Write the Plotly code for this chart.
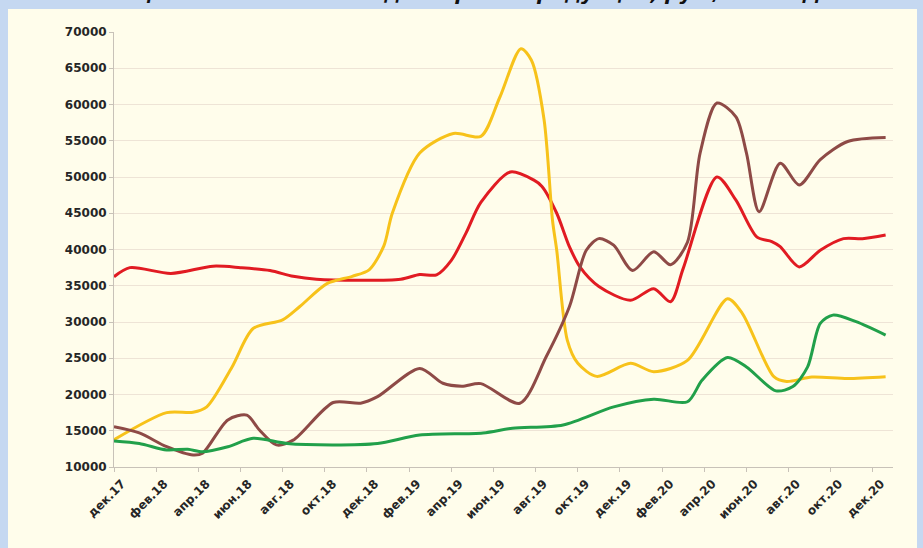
import plotly.graph_objects as go

# Tick labels (every second month, Dec 2017 = month 0)
tick_months = list(range(0, 37, 2))
tick_labels = ["дек.17", "фев.18", "апр.18", "июн.18", "авг.18", "окт.18", "дек.18",
               "фев.19", "апр.19", "июн.19", "авг.19", "окт.19", "дек.19",
               "фев.20", "апр.20", "июн.20", "авг.20", "окт.20", "дек.20"]

# Red series (months since Dec 2017, values)
red_x = [0, 0.75, 2.7, 4.7, 6, 7.4, 8.5, 9.6, 13.6, 14.5, 15.3, 16, 16.7, 17.4, 18.8,
         19.9, 20.3, 21, 21.6, 22.1, 23, 24.5, 25.6, 26.4, 27, 28.6, 29.5, 30.5, 31.2,
         31.6, 32.5, 33.5, 34.6, 35.5, 36.6]
red_y = [36250, 37500, 36700, 37700, 37500, 37100, 36300, 35900, 35900, 36550, 36500,
         38500, 42300, 46500, 50700, 49600, 48700, 45000, 40400, 37600, 34900, 33000,
         34600, 32800, 37400, 50000, 46800, 41700, 41100, 40400, 37600, 39900, 41500,
         41500, 42000]

# Yellow series
yel_x = [0, 2.5, 3.75, 4.4, 5.6, 6.6, 8, 8.8, 10.1, 11.3, 12.1, 12.8, 13.2, 14.5, 16.1,
         17.4, 18.3, 19.3, 19.8, 20.4, 20.8, 21, 21.5, 22, 22.9, 24.5, 25.6, 27.2, 29.1,
         29.8, 31.3, 31.9, 33.1, 34.8, 36.6]
yel_y = [13750, 17500, 17550, 18300, 23800, 29100, 30300, 32100, 35300, 36300, 37200,
         40500, 45000, 53300, 56000, 55600, 61000, 67700, 66100, 57900, 44000, 39900,
         27500, 24300, 22500, 24300, 23150, 24700, 33200, 31200, 22450, 21800, 22400,
         22200, 22450]

# Brown series
brn_x = [0, 1.2, 2.5, 3.75, 4.2, 5.4, 6.3, 6.9, 7.7, 8.5, 10.4, 11.7, 12.5, 14.5, 15.6,
         16.5, 17.4, 19.25, 20.5, 21.6, 22.4, 23, 23.7, 24.6, 25.6, 26.4, 27.2, 27.8, 28.6,
         29.5, 30, 30.6, 31.6, 32.5, 33.5, 34.8, 36.6]
brn_y = [15550, 14700, 12800, 11650, 11900, 16500, 17150, 15100, 13050, 13700, 18900,
         18800, 19700, 23600, 21550, 21150, 21500, 18800, 25200, 32100, 39900, 41500,
         40600, 37100, 39700, 37900, 41000, 53300, 60200, 58300, 53300, 45200, 51900,
         48900, 52400, 54900, 55450]

# Green series
grn_x = [0, 1.2, 2.5, 3.5, 4.2, 5.4, 6.6, 8.2, 10.4, 12.5, 14.5, 17.5, 18.9, 21.3, 23.7,
         25.6, 27.2, 27.9, 29.1, 30, 31.4, 32.2, 32.9, 33.5, 34.1, 35.2, 36.6]
grn_y = [13600, 13250, 12350, 12450, 12100, 12800, 13950, 13250, 13050, 13250, 14400,
         14700, 15350, 15800, 18300, 19350, 19000, 22000, 25100, 23800, 20500, 21100,
         23800, 29800, 30950, 30050, 28200]

series = [
    ("red", red_x, red_y, "#E11B22"),
    ("yellow", yel_x, yel_y, "#F7C21A"),
    ("brown", brn_x, brn_y, "#8E4A46"),
    ("green", grn_x, grn_y, "#21A04A"),
]

fig = go.Figure()
for name, xs, ys, col in series:
    fig.add_trace(go.Scatter(x=xs, y=ys, mode="lines", name=name,
                             line=dict(color=col, width=3, shape="spline", smoothing=0.8),
                             showlegend=False, hoverinfo="skip"))

W, H = 923, 548
L, R, T, B = 114, 30, 32, 81
pw, ph = W - L - R, H - T - B

def px(xp):
    return (xp - L) / pw

def py(yp):
    return (H - B - yp) / ph

cream = "#FFFDEB"
blue = "#C5D8F1"
fig.update_layout(
    width=W, height=H,
    margin=dict(l=L, r=R, t=T, b=B, pad=0),
    paper_bgcolor=blue,
    plot_bgcolor=cream,
    font=dict(family="Verdana, DejaVu Sans, sans-serif", color="#262626"),
    shapes=[
        dict(type="rect", xref="paper", yref="paper", layer="below",
             x0=px(8), x1=px(917), y0=py(560), y1=py(9),
             fillcolor=cream, line=dict(width=0)),
        dict(type="rect", xref="paper", yref="paper", layer="between",
             x0=px(115), x1=px(387), y0=py(200), y1=py(42),
             fillcolor=cream, line=dict(width=0)),
    ],
    annotations=[
        dict(text="<b><i>Цены на основные виды сырья и продукции, руб./т без НДС</i></b>",
             xref="paper", yref="paper", x=px(485), y=py(-7), xanchor="center",
             yanchor="middle", showarrow=False,
             font=dict(size=20, color="#111111", family="DejaVu Sans, sans-serif")),
    ],
)

fig.update_xaxes(
    range=[0, 36.95],
    tickmode="array", tickvals=tick_months,
    ticktext=["<b>" + t + "</b>" for t in tick_labels],
    tickangle=-45, tickfont=dict(size=12, color="#262626"),
    ticklabelshift=8,
    showgrid=False, zeroline=False,
    showline=True, linecolor="#C8C2B8", linewidth=1,
    ticks="outside", ticklen=4, tickcolor="#C8C2B8",
)
fig.update_yaxes(
    range=[10000, 70000],
    tickmode="array", tickvals=list(range(10000, 70001, 5000)),
    ticktext=["<b>%d</b>" % v for v in range(10000, 70001, 5000)],
    tickfont=dict(size=12, color="#262626"),
    showgrid=True, gridcolor="#EEE4D6", gridwidth=1,
    zeroline=False,
    showline=True, linecolor="#C8C2B8", linewidth=1,
    ticks="outside", ticklen=4, tickcolor="#C8C2B8",
)

fig.write_html("out.html",
               config={"displayModeBar": False},
               post_script="document.body.style.margin='0';"
                           "document.body.style.background='%s';" % blue)
